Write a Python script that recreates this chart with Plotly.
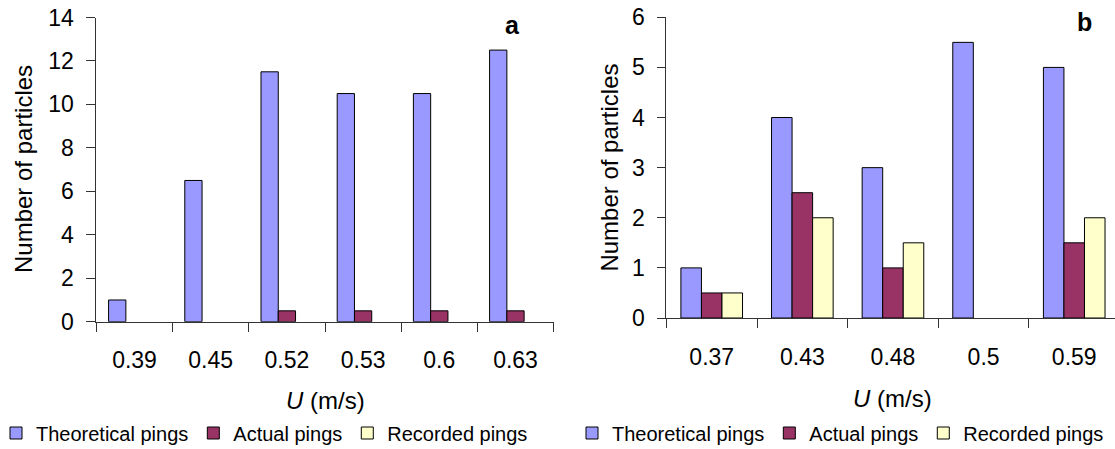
import plotly.graph_objects as go

# ---- data ----
cats_a = ["0.39", "0.45", "0.52", "0.53", "0.6", "0.63"]
theo_a = [1, 6.5, 11.5, 10.5, 10.5, 12.5]
act_a = [None, None, 0.5, 0.5, 0.5, 0.5]
rec_a = [None, None, None, None, None, None]

cats_b = ["0.37", "0.43", "0.48", "0.5", "0.59"]
theo_b = [1, 4, 3, 5.5, 5]
act_b = [0.5, 2.5, 1, None, 1.5]
rec_b = [0.5, 2, 1.5, None, 2]

names = ["Theoretical pings", "Actual pings", "Recorded pings"]
colors = ["#9999FF", "#993366", "#FFFFCC"]

W, H = 1115, 449
FONT = "Liberation Sans, Arial, sans-serif"

fig = go.Figure()
for vals, nm, col in zip([theo_a, act_a, rec_a], names, colors):
    fig.add_trace(go.Bar(x=cats_a, y=vals, name=nm, marker=dict(color=col, line=dict(color="#000", width=1)),
                         xaxis="x", yaxis="y", legend="legend"))
for vals, nm, col in zip([theo_b, act_b, rec_b], names, colors):
    fig.add_trace(go.Bar(x=cats_b, y=vals, name=nm, marker=dict(color=col, line=dict(color="#000", width=1)),
                         xaxis="x2", yaxis="y2", legend="legend2"))

def px_x(p):
    return p / W

def px_y(p):
    return 1 - p / H

axis_common = dict(showgrid=False, zeroline=False, showline=True, linecolor="#333", linewidth=1,
                   automargin=False,
                   ticks="outside", tickcolor="#333", tickfont=dict(family=FONT, size=23, color="#000"))

fig.update_layout(
    width=W, height=H,
    margin=dict(l=0, r=0, t=0, b=0, autoexpand=False),
    paper_bgcolor="white", plot_bgcolor="white",
    barmode="group", bargap=0.32, bargroupgap=0,
    font=dict(family=FONT, color="#000"),
    xaxis=dict(axis_common, type="category", domain=[px_x(96.4), px_x(553.6)], anchor="y",
               tickson="boundaries", ticklen=9, ticklabelstandoff=18, range=[-0.5, 5.5]),
    yaxis=dict(axis_common, domain=[px_y(321.7), px_y(17.5)], anchor="x", range=[0, 14], dtick=2,
               ticklen=9, ticklabelstandoff=8),
    xaxis2=dict(axis_common, type="category", domain=[px_x(666.4), 1.0], anchor="y2",
                tickson="boundaries", ticklen=9, ticklabelstandoff=18, range=[-0.5, 4.45]),
    yaxis2=dict(axis_common, domain=[px_y(318), px_y(17.3)], anchor="x2", range=[0, 6], dtick=1,
                ticklen=8, ticklabelstandoff=8),
    legend=dict(orientation="h", x=-4 / W, y=px_y(433), xanchor="left", yanchor="middle",
                font=dict(family=FONT, size=20, color="#000"), bgcolor="rgba(0,0,0,0)"),
    legend2=dict(orientation="h", x=px_x(572), y=px_y(433), xanchor="left", yanchor="middle",
                 font=dict(family=FONT, size=20, color="#000"), bgcolor="rgba(0,0,0,0)"),
    showlegend=True,
)

ann = [
    dict(text="Number of particles", x=px_x(23), y=px_y(169), textangle=-90, size=24),
    dict(text="Number of particles", x=px_x(608.6), y=px_y(168), textangle=-90, size=24),
    dict(text="<i>U</i> (m/s)", x=px_x(325), y=px_y(400), size=24),
    dict(text="<i>U</i> (m/s)", x=px_x(892.5), y=px_y(398), size=24),
    dict(text="<b>a</b>", x=px_x(512), y=px_y(25), size=25),
    dict(text="<b>b</b>", x=px_x(1084), y=px_y(22), size=25),
]
for a in ann:
    sz = a.pop("size")
    fig.add_annotation(xref="paper", yref="paper", showarrow=False, xanchor="center", yanchor="middle",
                       font=dict(family=FONT, size=sz, color="#000"), **a)

fig.write_html("out.html")
